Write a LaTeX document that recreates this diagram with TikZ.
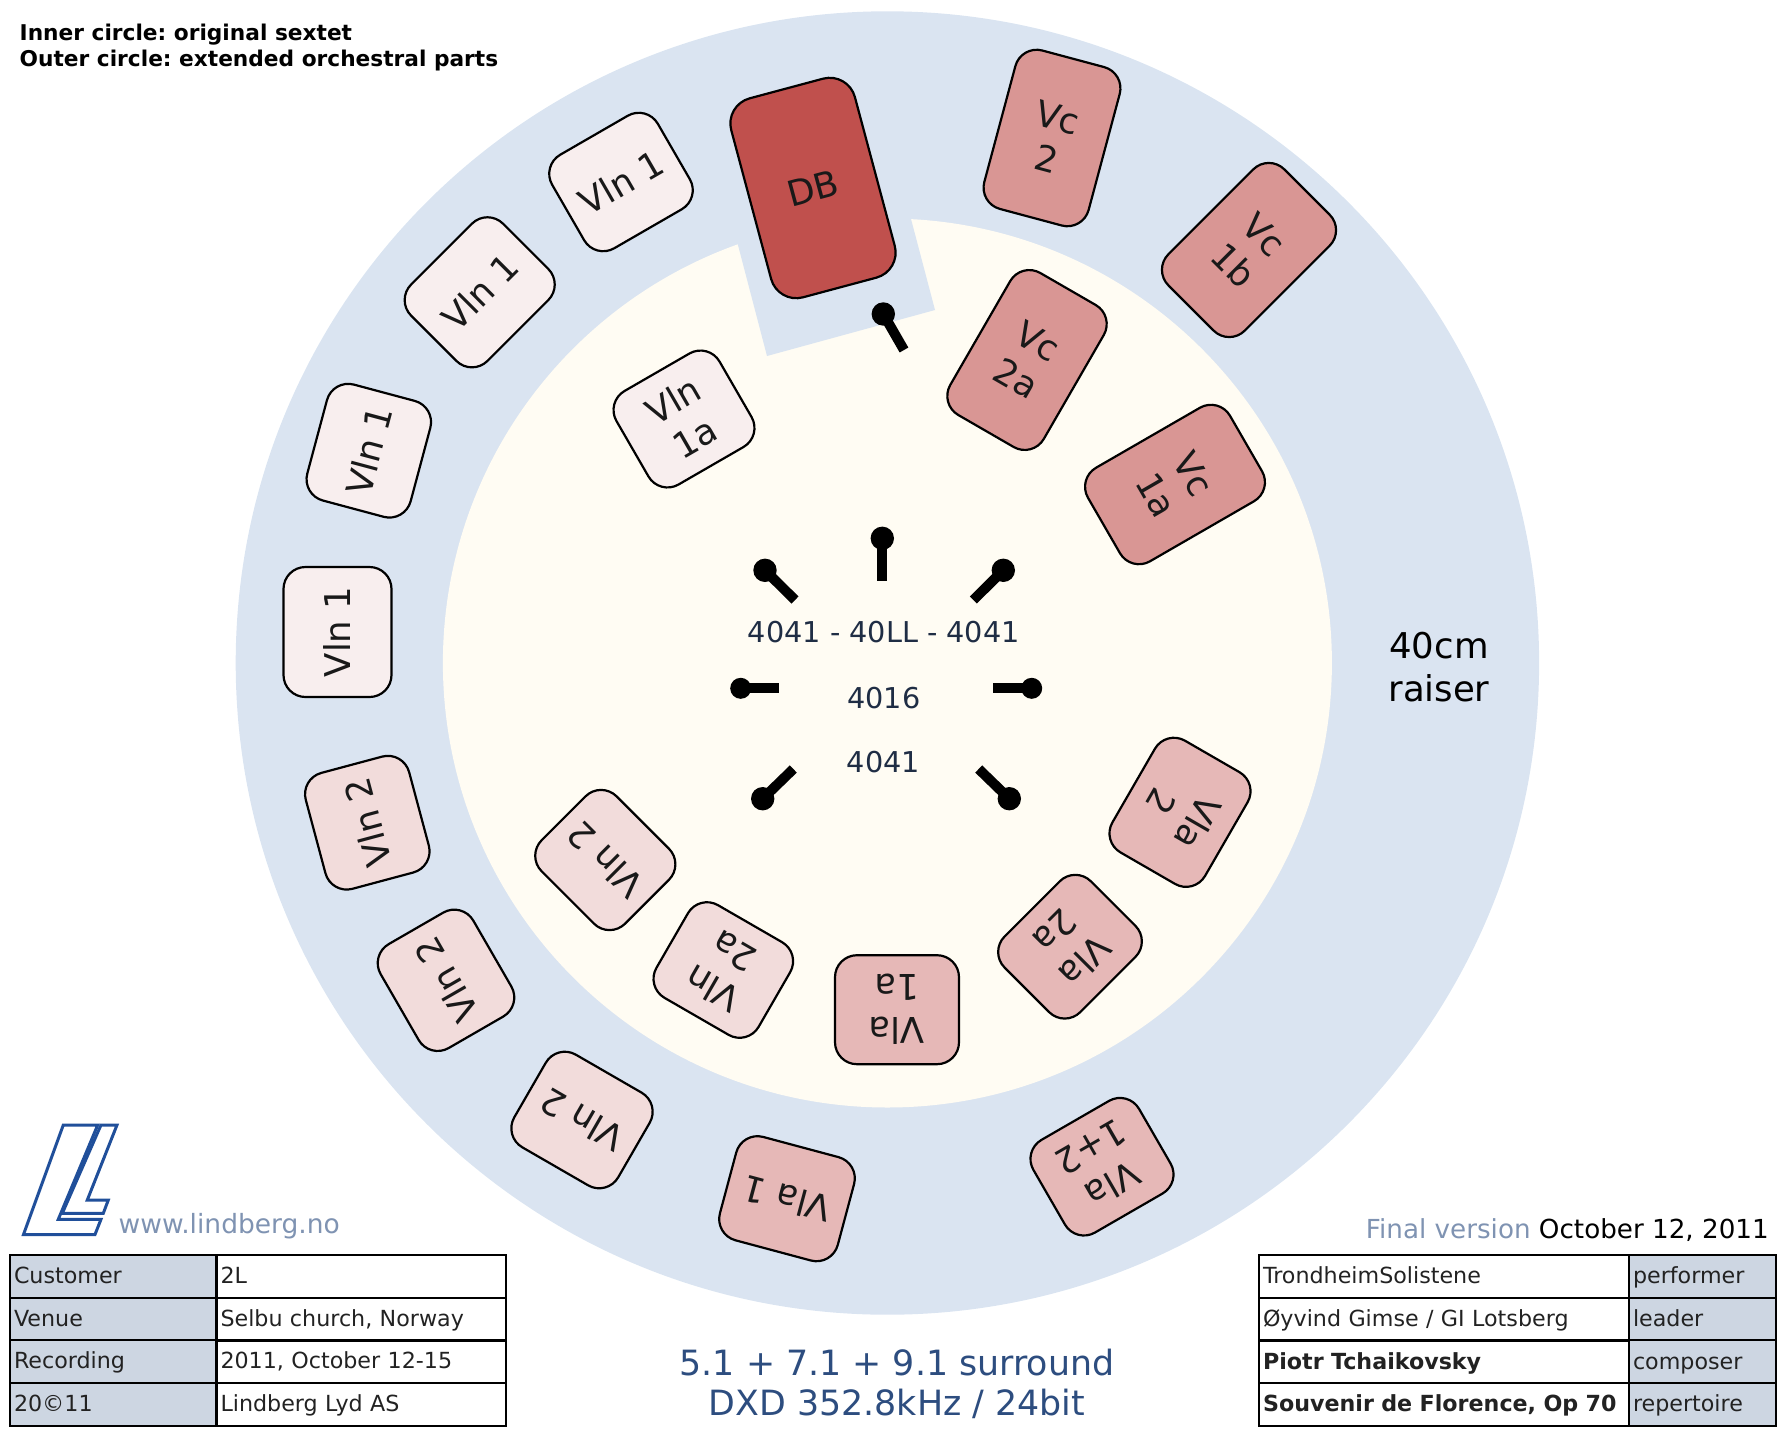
\documentclass[tikz,border=0pt]{standalone}
\usepackage{fontspec}
\setmainfont{DejaVu Sans}
\frenchspacing
\definecolor{raiserblue}{HTML}{DAE4F1}
\definecolor{floorcream}{HTML}{FFFCF3}
\definecolor{vlnonefill}{HTML}{F8EEEE}
\definecolor{vlntwofill}{HTML}{F2DCDB}
\definecolor{violafill}{HTML}{E6B8B7}
\definecolor{cellofill}{HTML}{D99694}
\definecolor{bassfill}{HTML}{C0504D}
\definecolor{tablegray}{HTML}{CDD6E2}
\definecolor{inkgray}{HTML}{222222}
\definecolor{micnavy}{HTML}{1F2D44}
\definecolor{surroundblue}{HTML}{2D4D7F}
\definecolor{webblue}{HTML}{7F93B2}
\definecolor{logoblue}{HTML}{204F9A}
\tikzset{
  player/.style={draw=black, line width=2.2pt, rounded corners=22pt, inner sep=0pt,
    text=black!90, align=center, font=\fontsize{35.5}{43}\selectfont},
  vlnone/.style={player, fill=vlnonefill, minimum width=120pt, minimum height=107pt},
  vlntwo/.style={player, fill=vlntwofill, minimum width=120pt, minimum height=107pt},
  viola/.style={player, fill=violafill, minimum width=122pt, minimum height=107pt},
  cello/.style={player, fill=cellofill, minimum width=108pt, minimum height=164pt},
  stem/.style={line width=10pt, line cap=butt},
  miclabel/.style={text=micnavy, font=\fontsize{28.7}{28.7}\selectfont},
  headnote/.style={anchor=west, inner sep=0pt, font=\fontsize{21.7}{21.7}\selectfont\bfseries},
  cell/.style={draw=black, line width=2pt, inner xsep=4pt, inner ysep=0pt, align=left,
    text=inkgray, minimum height=43pt, text height=18pt, text depth=2.4pt,
    font=\fontsize{22.2}{22.2}\selectfont},
  keycell/.style={cell, fill=tablegray},
}
\begin{document}
\begin{tikzpicture}[x=1pt, y=-1pt]
  \useasboundingbox (0,0) rectangle (1785,1435);

  % The raiser and the floor inside it
  \fill[raiserblue] (887.4,663) circle (651.7pt);
  \fill[floorcream] (887.4,663) circle (444.5pt);

  % The part of the raiser that reaches in for the bass
  \fill[raiserblue] (733,226) -- (767,356) -- (935,310) -- (906,200) -- cycle;

  % First violins
  \node[vlnone, rotate=90, minimum width=130pt, minimum height=108pt] (vlnOneA) at (337.5,632) {Vln 1};
  \node[vlnone, rotate=75] (vlnOneB) at (368.8,450.7) {Vln 1};
  \node[vlnone, rotate=45, minimum width=130pt, minimum height=108pt] (vlnOneC) at (479.7,292.3) {Vln 1};
  \node[vlnone, rotate=30, minimum width=122pt, minimum height=108pt] (vlnOneD) at (621,182) {Vln 1};
  \node[vlnone, rotate=30, minimum width=119pt, minimum height=108pt] (vlnOneIn) at (684,419) {Vln\\1a};

  % Second violins
  \node[vlntwo, rotate=105] (vlnTwoA) at (367.3,822.7) {Vln 2};
  \node[vlntwo, rotate=120] (vlnTwoB) at (446,980.3) {Vln 2};
  \node[vlntwo, rotate=150] (vlnTwoC) at (582,1120) {Vln 2};
  \node[vlntwo, rotate=135, minimum width=118pt, minimum height=106pt] (vlnTwoD) at (605.3,860) {Vln 2};
  \node[vlntwo, rotate=150, minimum width=118pt] (vlnTwoIn) at (723.3,970) {Vln\\2a};

  % Violas
  \node[viola, rotate=180, minimum width=124pt, minimum height=109pt] (vlaOneIn) at (897,1009.7) {Vla\\1a};
  \node[viola, rotate=165] (vlaOne) at (787,1198.7) {Vla 1};
  \node[viola, rotate=210] (vlaBoth) at (1102,1166.7) {Vla\\1+2};
  \node[viola, rotate=225] (vlaTwoIn) at (1070,946.7) {Vla\\2a};
  \node[viola, rotate=240, minimum width=129pt] (vlaTwo) at (1180,812.3) {Vla\\2};

  % Cellos and the bass
  \node[cello, rotate=-15] (vcTwo) at (1052,138) {Vc\\2};
  \node[cello, rotate=-45] (vcOne) at (1249,250) {Vc\\1b};
  \node[cello, rotate=-30] (vcTwoIn) at (1027,360) {Vc\\2a};
  \node[cello, rotate=-60] (vcOneIn) at (1175,484.5) {Vc\\1a};
  \node[player, fill=bassfill, rotate=15, minimum width=128pt, minimum height=206pt, rounded corners=26pt] (bass) at (813,188) {DB};

  % Microphones, head first and then the stand
  \fill (883.3,314) circle (11.7pt);
  \draw[stem] (883.3,314) -- (904,350);
  \fill (882.3,538.3) circle (11.7pt);
  \draw[stem] (882.3,538.3) -- (882.3,581);
  \fill (765,570.3) circle (11.7pt);
  \draw[stem] (765,570.3) -- (795,600);
  \fill (1003.3,570.3) circle (11.7pt);
  \draw[stem] (1003.3,570.3) -- (973.3,600);
  \fill (740.7,688.3) circle (10.5pt);
  \draw[stem] (740.7,688.3) -- (779,688.3);
  \fill (1031.7,688.3) circle (10.5pt);
  \draw[stem] (1031.7,688.3) -- (993.3,688.3);
  \fill (762.7,798.7) circle (11.7pt);
  \draw[stem] (762.7,798.7) -- (793.3,769);
  \fill (1009.3,798.7) circle (11.7pt);
  \draw[stem] (1009.3,798.7) -- (978.7,769);

  % Microphone types
  \node[miclabel] (micMain) at (883.8,631.7) {4041 - 40LL - 4041};
  \node[miclabel] (micMid) at (883.8,698.5) {4016};
  \node[miclabel] (micLow) at (883.5,762) {4041};

  % Notes around the circle
  \node[headnote] (noteInner) at (19.5,34.3) {Inner circle: original sextet};
  \node[headnote] (noteOuter) at (19.5,60.3) {Outer circle: extended orchestral parts};
  \node[align=center, font=\fontsize{35.5}{43}\selectfont] (raiserNote) at (1439,667) {40cm\\raiser};
  \node[align=center, text=surroundblue, font=\fontsize{34.8}{39.5}\selectfont] (formatNote) at (897,1384) {5.1 + 7.1 + 9.1 surround\\DXD 352.8kHz / 24bit};

  % Logo and web address
  \draw[logoblue, line width=3pt] (23.5,1234.5) -- (63.3,1125) -- (97.7,1125) -- (58.3,1219.3) -- (101,1219.3) -- (95,1234.5) -- cycle;
  \draw[logoblue, line width=3pt] (101,1125) -- (117,1125) -- (87.3,1200) -- (108.3,1200) -- (103.3,1213.3) -- (62.3,1213.3) -- cycle;
  \node[anchor=base west, inner sep=0pt, text=webblue, font=\fontsize{26.5}{26.5}\selectfont] (website) at (118.5,1233) {www.lindberg.no};

  % Version line
  \node[anchor=base east, inner sep=0pt, font=\fontsize{26.2}{26.2}\selectfont] (version) at (1769,1238) {\textcolor{webblue}{Final version} October 12, 2011};

  % Table of the session, left
  \node[keycell, text width=198pt] (customerKey) at (113,1276) {Customer};
  \node[keycell, text width=198pt] (venueKey) at (113,1319) {Venue};
  \node[keycell, text width=198pt] (recordingKey) at (113,1361) {Recording};
  \node[keycell, text width=198pt] (yearKey) at (113,1404) {20©11};
  \node[cell, text width=281pt] (customerVal) at (361,1276) {2L};
  \node[cell, text width=281pt] (venueVal) at (361,1319) {Selbu church, Norway};
  \node[cell, text width=281pt] (recordingVal) at (361,1361) {2011, October 12-15};
  \node[cell, text width=281pt] (yearVal) at (361,1404) {Lindberg Lyd AS};

  % Table of the music, right
  \node[cell, text width=362pt] (performerVal) at (1444,1276) {TrondheimSolistene};
  \node[cell, text width=362pt] (leaderVal) at (1444,1319) {Øyvind Gimse / GI Lotsberg};
  \node[cell, text width=362pt] (composerVal) at (1444,1361.5) {\textbf{Piotr Tchaikovsky}};
  \node[cell, text width=362pt] (worksVal) at (1444,1404) {\textbf{Souvenir de Florence, Op 70}};
  \node[keycell, text width=139pt] (performerKey) at (1702.5,1276) {performer};
  \node[keycell, text width=139pt] (leaderKey) at (1702.5,1319) {leader};
  \node[keycell, text width=139pt] (composerKey) at (1702.5,1361.5) {composer};
  \node[keycell, text width=139pt] (worksKey) at (1702.5,1404) {repertoire};
\end{tikzpicture}
\end{document}
